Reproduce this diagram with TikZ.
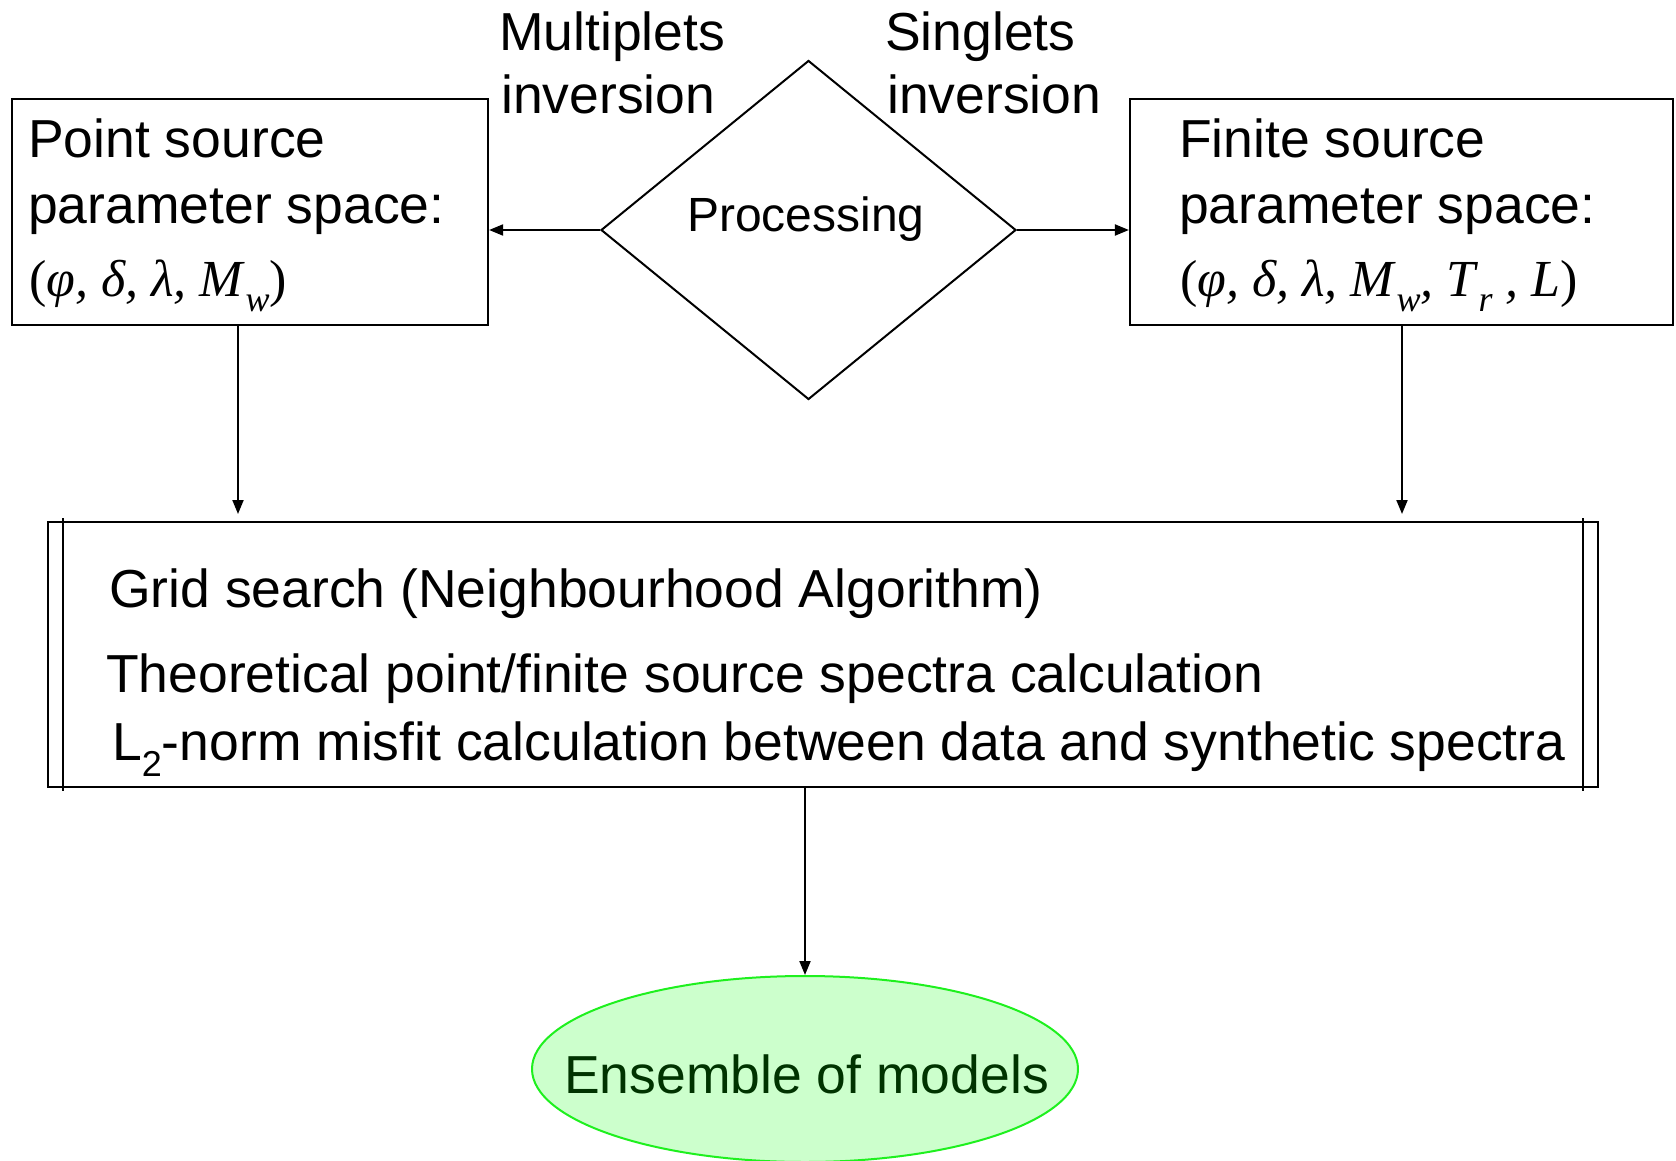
\documentclass[tikz,border=0pt]{standalone}
\usepackage{fontspec}
\setmainfont{Liberation Sans}
\newfontfamily\tnr{Liberation Serif}
\usetikzlibrary{shapes.geometric,arrows.meta}
\definecolor{ensfill}{RGB}{204,255,204}
\definecolor{ensdraw}{RGB}{30,240,30}
\definecolor{enstext}{RGB}{0,51,0}
\newcommand\mysz{\fontsize{53.5}{60}\selectfont}
\newcommand\procsz{\fontsize{48}{54}\selectfont}
\newcommand\mthsz{\fontsize{52}{58}\selectfont}
\newcommand\subsz{\fontsize{36}{38}\selectfont}
\begin{document}
\begin{tikzpicture}[x=1pt,y=-1pt,
  frame/.style={draw,line width=2.2pt,inner sep=0pt,rectangle},
  txt/.style={anchor=base west,inner sep=0pt,font=\mysz},
  arr/.style={line width=2pt,-{Triangle[length=14pt,width=11pt]}},
  thin/.style={line width=2pt}]
\useasboundingbox (0,0) rectangle (1676,1161);
% boxes
\node[frame,minimum width=476pt,minimum height=226pt] (lbox) at (250,212) {};
\node[frame,minimum width=543pt,minimum height=226pt] (rbox) at (1401.5,212) {};
\node[draw,diamond,line width=2pt,inner sep=0pt,minimum width=415pt,minimum height=339pt] (proc) at (808.5,230) {};
\node[frame,minimum width=1550pt,minimum height=265pt] (grid) at (823,654.5) {};
\node[ellipse,draw=ensdraw,fill=ensfill,line width=2pt,inner sep=0pt,minimum width=546pt,minimum height=186pt] (ens) at (805,1069) {};
% grid inner lines
\coordinate (g1t) at (63,518); \coordinate (g1b) at (63,791);
\coordinate (g2t) at (1583,518); \coordinate (g2b) at (1583,791);
\draw[thin] (g1t) -- (g1b);
\draw[thin] (g2t) -- (g2b);
% texts
\node[txt] (mult1) at (499,51) {Multiplets};
\node[txt] (mult2) at (501,114) {inversion};
\node[txt] (sing1) at (885,51) {Singlets};
\node[txt] (sing2) at (887,114) {inversion};
\node[txt,font=\procsz] (proct) at (687,232) {Processing};
\node[txt] (l1) at (28,158) {Point source};
\node[txt] (l2) at (28,224) {parameter space:};
\node[txt,font=\mthsz\tnr] (l3) at (29,296) {(\textit{φ, δ, λ, M}\raisebox{-0.3em}{\subsz\itshape w})};
\node[txt] (r1) at (1179,158) {Finite source};
\node[txt] (r2) at (1179,224) {parameter space:};
\node[txt,font=\mthsz\tnr] (r3) at (1180,296) {(\textit{φ, δ, λ, M}\raisebox{-0.3em}{\subsz\itshape w}\textit{, T}\raisebox{-0.3em}{\subsz\itshape r}\textit{ , L})};
\node[txt] (g1) at (109,607) {Grid search (Neighbourhood Algorithm)};
\node[txt] (g2) at (106,692) {Theoretical point/finite source spectra calculation};
\node[txt] (g3) at (112,760) {L\raisebox{-0.3em}{\subsz 2}-norm misfit calculation between data and synthetic spectra};
\node[txt,text=enstext] (enst) at (564,1093) {Ensemble of models};
% connectors
\draw[arr] (proc.west) -- (proc.west -| lbox.east);
\draw[arr] (proc.east) -- (proc.east -| rbox.west);
\coordinate (la) at (238,514);
\coordinate (ra) at (1402,514);
\draw[arr] (lbox.south -| la) -- (la);
\draw[arr] (rbox.south -| ra) -- (ra);
\draw[arr] (grid.south -| ens.north) -- (ens.north);
\end{tikzpicture}
\end{document}
